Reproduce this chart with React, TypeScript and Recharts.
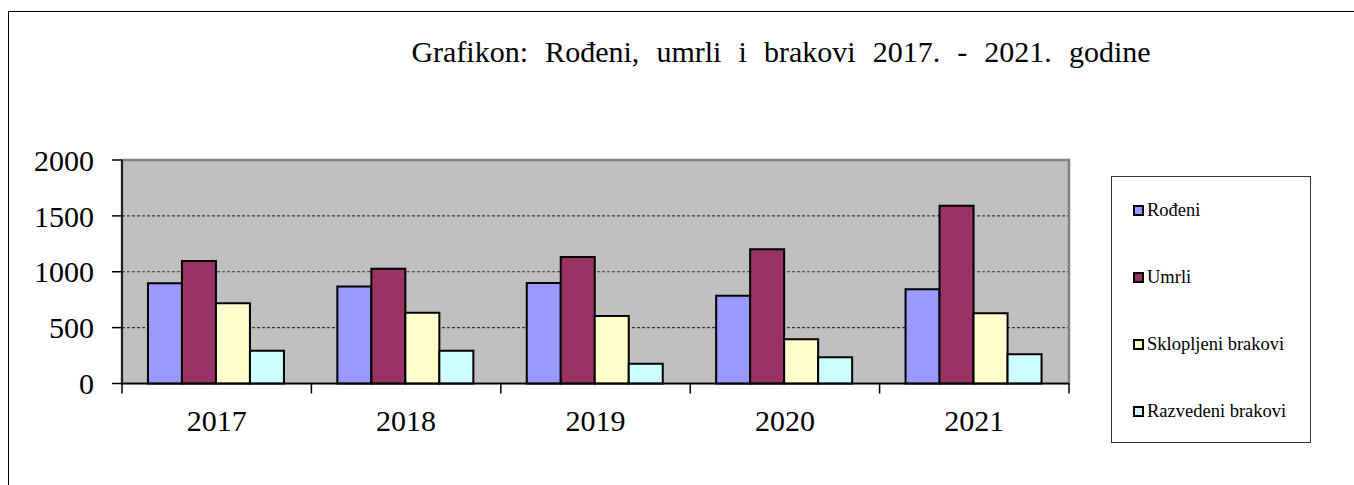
import { BarChart, Bar, XAxis, YAxis, CartesianGrid, Legend, ReferenceArea } from "recharts";

const years = ["2017", "2018", "2019", "2020", "2021"];
const seriesNames = ["Rođeni", "Umrli", "Sklopljeni brakovi", "Razvedeni brakovi"];
const rodjeni = [897, 867, 899, 786, 843];
const umrli = [1096, 1027, 1132, 1201, 1591];
const sklopljeni = [718, 634, 604, 395, 628];
const razvedeni = [294, 294, 177, 234, 261];
const yTicks = [0, 500, 1000, 1500, 2000];

const data = years.map((year, i) => ({
  year,
  rodjeni: rodjeni[i],
  umrli: umrli[i],
  sklopljeni: sklopljeni[i],
  razvedeni: razvedeni[i],
}));

const W = 1354;
const H = 485;
const margin = { top: 160, right: 285, bottom: 41.5, left: 62 };
const Y_AXIS_W = 60;
const band = (W - margin.left - Y_AXIS_W - margin.right) / years.length;
const font = "'Liberation Serif', 'Times New Roman', serif";

function XTick(props: any) {
  const { x, y, payload, index } = props;
  const half = band / 2;
  return (
    <g>
      <line x1={x - half} x2={x - half} y1={y} y2={y + 10} stroke="#000" strokeWidth={1.5} />
      {index === years.length - 1 && (
        <line x1={x + half} x2={x + half} y1={y} y2={y + 10} stroke="#000" strokeWidth={1.5} />
      )}
      <text x={x} y={y + 47.5} textAnchor="middle" fontFamily={font} fontSize={30} fill="#000">
        {payload.value}
      </text>
    </g>
  );
}

function LegendBox(props: any) {
  const items = [...(props.payload || [])].sort(
    (a: any, b: any) => seriesNames.indexOf(a.value) - seriesNames.indexOf(b.value)
  );
  return (
    <div
      style={{
        width: 200,
        height: 267,
        boxSizing: "border-box",
        border: "1.5px solid #333",
        background: "#fff",
        position: "relative",
      }}
    >
      {items.map((it: any, i: number) => (
        <div
          key={it.value}
          style={{
            position: "absolute",
            left: 21,
            top: 33 + i * 67 - 11,
            height: 22,
            display: "flex",
            alignItems: "center",
            fontFamily: font,
            fontSize: 18.5,
            color: "#000",
            whiteSpace: "nowrap",
          }}
        >
          <span
            style={{
              display: "inline-block",
              width: 11,
              height: 11,
              boxSizing: "border-box",
              border: "2px solid #000",
              background: it.color,
              marginRight: 3,
            }}
          />
          {it.value}
        </div>
      ))}
    </div>
  );
}

export default function App() {
  return (
    <div style={{ position: "absolute", left: 0, top: 0, width: W, height: H, overflow: "hidden", background: "#fff" }}>
      <div
        style={{
          position: "absolute",
          left: 8,
          top: 11,
          width: W + 20,
          height: H + 20,
          borderLeft: "1.5px solid #000",
          borderTop: "1.5px solid #000",
        }}
      />
      <div
        style={{
          position: "absolute",
          left: 0,
          width: 1562,
          top: 37,
          textAlign: "center",
          fontFamily: font,
          fontSize: 30,
          lineHeight: 1,
          wordSpacing: 9.6,
          color: "#000",
          whiteSpace: "nowrap",
        }}
      >
        Grafikon: Rođeni, umrli i brakovi 2017. - 2021. godine
      </div>
      <div style={{ position: "absolute", left: 0, top: 0 }}>
        <BarChart width={W} height={H} data={data} margin={margin} barCategoryGap="13.7%" barGap={0}>
          <CartesianGrid
            vertical={false}
            fill="#c0c0c0"
            stroke="#333"
            strokeDasharray="3 2"
            strokeWidth={1.2}
          />
          <ReferenceArea
            x1="2017"
            x2="2021"
            y1={0}
            y2={2000}
            fill="none"
            fillOpacity={0}
            stroke="#808080"
            strokeWidth={2.5}
          />
          <XAxis
            dataKey="year"
            height={60}
            axisLine={{ stroke: "#000", strokeWidth: 1.5 }}
            tickLine={false}
            tickSize={0}
            tickMargin={0}
            tick={<XTick />}
            interval={0}
          />
          <YAxis
            width={Y_AXIS_W}
            domain={[0, 2000]}
            ticks={yTicks}
            interval={0}
            tickSize={10}
            tickMargin={18}
            axisLine={{ stroke: "#000", strokeWidth: 1.5 }}
            tickLine={{ stroke: "#000", strokeWidth: 1.5 }}
            tick={{ fontFamily: font, fontSize: 30, fill: "#000" }}
          />
          <Legend
            layout="vertical"
            align="center"
            verticalAlign="middle"
            wrapperStyle={{ position: "absolute", left: 1111, top: 176, width: 200, height: 267 }}
            content={<LegendBox />}
          />
          <Bar dataKey="rodjeni" name={seriesNames[0]} fill="#9999ff" stroke="#000" strokeWidth={2} isAnimationActive={false} />
          <Bar dataKey="umrli" name={seriesNames[1]} fill="#993366" stroke="#000" strokeWidth={2} isAnimationActive={false} />
          <Bar dataKey="sklopljeni" name={seriesNames[2]} fill="#ffffcc" stroke="#000" strokeWidth={2} isAnimationActive={false} />
          <Bar dataKey="razvedeni" name={seriesNames[3]} fill="#ccffff" stroke="#000" strokeWidth={2} isAnimationActive={false} />
        </BarChart>
      </div>
    </div>
  );
}
